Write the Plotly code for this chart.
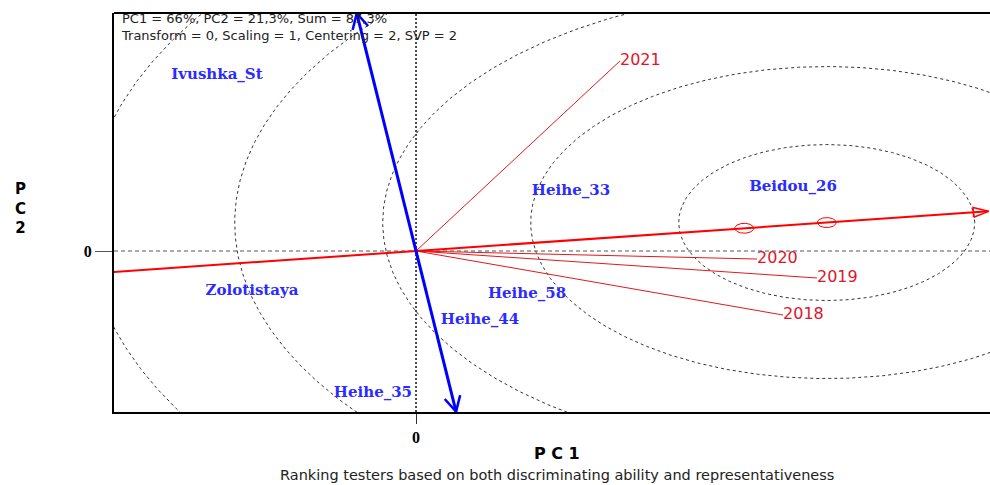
import numpy as np
import plotly.graph_objects as go

# ---------------- data ----------------
genotypes = ["Ivushka_St", "Heihe_33", "Beidou_26", "Heihe_58",
             "Heihe_44", "Zolotistaya", "Heihe_35"]
geno_pc1 = [-1.345, 1.047, 2.547, 0.750, 0.432, -1.108, -0.291]
geno_pc2 = [2.256, 0.769, 0.821, -0.551, -0.885, -0.513, -1.821]

environments = ["2018", "2019", "2020", "2021"]
env_pc1 = [2.480, 2.709, 2.304, 1.378]
env_pc2 = [-0.821, -0.346, -0.103, 2.436]

x_ticks = [0]
x_tick_labels = ["0"]
y_ticks = [0]
y_tick_labels = ["0"]

ring_count = 6
ring_step = 1.0
marker_radius = 0.064

info_text = ("PC1 = 66%, PC2 = 21,3%, Sum = 87,3%<br>"
             "Transform = 0, Scaling = 1, Centering = 2, SVP = 2")
x_title = "P C 1"
y_title = "P<br>C<br>2"
subtitle = "Ranking testers based on both discriminating ability and representativeness"

X_RANGE = [-2.0405, 3.878]
Y_RANGE = [-2.064, 3.051]

# ---------------- layout geometry ----------------
W, H = 990, 485
ML, MR, MT, MB = 114, 0, 13, 73
PW, PH = W - ML - MR, H - MT - MB
SX = PW / (X_RANGE[1] - X_RANGE[0])
SY = PH / (Y_RANGE[1] - Y_RANGE[0])


def px_to_paper(px, py):
    return (px - ML) / PW, (H - MB - py) / PH


# ---------------- derived biplot geometry ----------------
ex = np.array(env_pc1)
ey = np.array(env_pc2)
avg = np.array([ex.mean(), ey.mean()])
u = avg / np.hypot(*avg)
lmax = np.max(np.hypot(ex, ey))
ideal = u * lmax
perp = np.array([-u[1], u[0]])

fig = go.Figure()

# concentric circles around the ideal tester
theta = np.linspace(0, 2 * np.pi, 721)
for k in range(1, ring_count + 1):
    r = k * ring_step
    fig.add_trace(go.Scatter(
        x=ideal[0] + r * np.cos(theta), y=ideal[1] + r * np.sin(theta),
        mode="lines", line=dict(color="#333333", width=1, dash="3px,3px"),
        hoverinfo="skip", showlegend=False))

# zero reference lines
fig.add_shape(type="line", xref="x", yref="y", x0=X_RANGE[0], x1=X_RANGE[1], y0=0, y1=0,
              line=dict(color="#555555", width=1, dash="4px,3px"), layer="below")
fig.add_shape(type="line", xref="x", yref="y", x0=0, x1=0, y0=Y_RANGE[0], y1=Y_RANGE[1],
              line=dict(color="#111111", width=1.5, dash="2px,2px"), layer="below")

# environment vectors
for i, name in enumerate(environments):
    fig.add_trace(go.Scatter(
        x=[0, env_pc1[i]], y=[0, env_pc2[i]], mode="lines",
        line=dict(color="#e01a1a", width=1), hoverinfo="skip", showlegend=False))
fig.add_trace(go.Scatter(
    x=env_pc1, y=env_pc2, mode="text", text=environments,
    textposition="middle right",
    textfont=dict(family="DejaVu Sans", size=16, color="#e0142c"),
    hoverinfo="skip", showlegend=False))


def head(tip, direction, length_px, half_angle_deg, closed=False):
    dx, dy = direction[0] * SX, direction[1] * SY
    n = np.hypot(dx, dy)
    bx, by = -dx / n, -dy / n
    pts = []
    for s in (1, -1):
        a = np.radians(s * half_angle_deg)
        rx = bx * np.cos(a) - by * np.sin(a)
        ry = bx * np.sin(a) + by * np.cos(a)
        pts.append((tip[0] + rx * length_px / SX, tip[1] + ry * length_px / SY))
    xs = [pts[0][0], tip[0], pts[1][0]]
    ys = [pts[0][1], tip[1], pts[1][1]]
    if closed:
        xs.append(pts[0][0])
        ys.append(pts[0][1])
    return xs, ys


# average environment axis (AEA)
t_left = (X_RANGE[0] - 0.2) / u[0]
t_tip = (X_RANGE[1] - 0.01) / u[0]
aea_tip = u * t_tip
fig.add_trace(go.Scatter(
    x=[u[0] * t_left, aea_tip[0]], y=[u[1] * t_left, aea_tip[1]], mode="lines",
    line=dict(color="#ff0000", width=2), hoverinfo="skip", showlegend=False))
hx, hy = head(aea_tip, u, 16, 18, closed=True)
fig.add_trace(go.Scatter(x=hx, y=hy, mode="lines", line=dict(color="#ff0000", width=1.5),
                         hoverinfo="skip", showlegend=False))

# small circles: average environment and ideal tester
for c in (avg, ideal):
    fig.add_trace(go.Scatter(
        x=c[0] + marker_radius * np.cos(theta), y=c[1] + marker_radius * np.sin(theta),
        mode="lines", line=dict(color="#ff0000", width=1), hoverinfo="skip", showlegend=False))

# AEA ordinate (blue, double arrow)
t_top = (Y_RANGE[1] - 0.005) / perp[1]
t_bot = (Y_RANGE[0] + 0.005) / perp[1]
top_tip = perp * t_top
bot_tip = perp * t_bot
fig.add_trace(go.Scatter(
    x=[top_tip[0], bot_tip[0]], y=[top_tip[1], bot_tip[1]], mode="lines",
    line=dict(color="#0000ff", width=3), hoverinfo="skip", showlegend=False))
for tip, d in ((top_tip, perp), (bot_tip, -perp)):
    hx, hy = head(tip, d, 17, 28)
    fig.add_trace(go.Scatter(x=hx, y=hy, mode="lines", line=dict(color="#0000ff", width=2.5),
                             hoverinfo="skip", showlegend=False))

# genotype labels
fig.add_trace(go.Scatter(
    x=geno_pc1, y=geno_pc2, mode="text", text=genotypes, textposition="middle center",
    textfont=dict(family="DejaVu Serif", size=15, color="#2b2bff", weight="bold"),
    hoverinfo="skip", showlegend=False))

# frame top edge
fig.add_shape(type="line", xref="paper", yref="paper", x0=0, x1=1, y0=1, y1=1,
              line=dict(color="black", width=2))

annotations = []
ax_, ay_ = px_to_paper(119, 26.5)
annotations.append(dict(x=ax_, y=ay_, xref="paper", yref="paper", text=info_text,
                        showarrow=False, xanchor="left", yanchor="middle", align="left",
                        font=dict(family="DejaVu Sans", size=13, color="#222222")))
ax_, ay_ = px_to_paper(557, 453.5)
annotations.append(dict(x=ax_, y=ay_, xref="paper", yref="paper", text=x_title,
                        showarrow=False, xanchor="center", yanchor="middle",
                        font=dict(family="DejaVu Sans", size=16, color="black", weight="bold")))
ax_, ay_ = px_to_paper(20, 208)
annotations.append(dict(x=ax_, y=ay_, xref="paper", yref="paper", text=y_title,
                        showarrow=False, xanchor="center", yanchor="middle",
                        font=dict(family="DejaVu Sans", size=15, color="black", weight="bold")))
ax_, ay_ = px_to_paper(557, 484.8)
annotations.append(dict(x=ax_, y=ay_, xref="paper", yref="paper", text=subtitle,
                        showarrow=False, xanchor="center", yanchor="bottom",
                        font=dict(family="DejaVu Sans", size=14.5, color="#222222")))

fig.update_layout(
    width=W, height=H, margin=dict(l=ML, r=MR, t=MT, b=MB),
    paper_bgcolor="white", plot_bgcolor="white", showlegend=False,
    annotations=annotations,
    xaxis=dict(range=X_RANGE, showgrid=False, zeroline=False, showline=True,
               linecolor="black", linewidth=2, tickvals=x_ticks,
               ticktext=x_tick_labels, ticks="outside", ticklen=10, tickcolor="#333333",
               tickfont=dict(family="Liberation Serif", size=16, color="black", weight="bold"),
               fixedrange=True),
    yaxis=dict(range=Y_RANGE, showgrid=False, zeroline=False, showline=True,
               linecolor="black", linewidth=2, tickvals=y_ticks,
               ticktext=y_tick_labels, ticks="outside", ticklen=17, tickcolor="#555555",
               tickfont=dict(family="Liberation Serif", size=16, color="black", weight="bold"),
               fixedrange=True),
)

fig.write_html("out.html", config={"displayModeBar": False},
               post_script="document.body.style.margin='0';document.body.style.overflow='hidden';")
